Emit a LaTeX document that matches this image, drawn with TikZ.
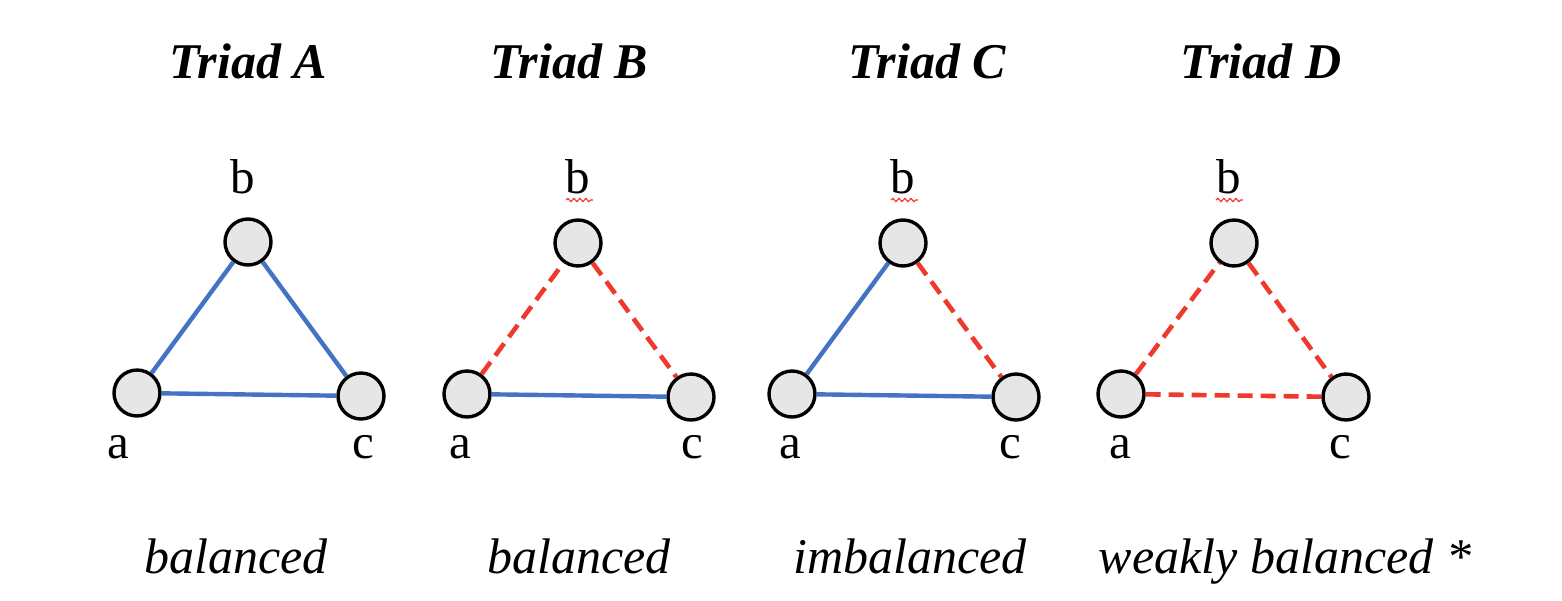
\documentclass[tikz,border=0pt]{standalone}
\usepackage{fontspec}
\setmainfont{Liberation Serif}
\usetikzlibrary{decorations.pathmorphing}
\definecolor{posblue}{HTML}{4472C4}
\definecolor{negred}{HTML}{EE3A2C}
\definecolor{nodegray}{HTML}{E6E6E6}
\tikzset{
  vtx/.style={circle,draw=black,fill=nodegray,line width=1.7pt,minimum size=23pt,inner sep=0pt},
  posedge/.style={draw=posblue,line width=2.2pt},
  negedge/.style={draw=negred,line width=2.3pt,dash pattern=on 7.5pt off 4pt},
  lbl/.style={anchor=base,font=\fontsize{24.5}{28}\selectfont,inner sep=0pt},
  ttl/.style={anchor=base,font=\fontsize{25}{30}\selectfont\bfseries\itshape,inner sep=0pt},
  verdict/.style={anchor=base,font=\fontsize{25}{30}\selectfont\itshape,inner sep=0pt},
  squig/.style={draw=negred,line width=0.6pt,decorate,decoration={snake,amplitude=0.8pt,segment length=3pt}}
}
\begin{document}
\begin{tikzpicture}[x=0.5pt,y=-0.5pt]
\useasboundingbox (0,0) rectangle (1562,600);
% Titles
\node[ttl] (tA) at (248,78) {Triad A};
\node[ttl] (tB) at (569,78) {Triad B};
\node[ttl] (tC) at (927,78) {Triad C};
\node[ttl] (tD) at (1261,78) {Triad D};
% Triad A
\node[vtx] (Ab) at (248,242) {};
\node[vtx] (Aa) at (137,393) {};
\node[vtx] (Ac) at (361,396) {};
\draw[posedge] (Aa) -- (Ab);
\draw[posedge] (Ab) -- (Ac);
\draw[posedge] (Aa) -- (Ac);
\node[lbl] (Lb1) at (243,193) {b};
\node[lbl] (La1) at (118,458) {a};
\node[lbl] (Lc1) at (363,458) {c};
% Triad B
\node[vtx] (Bb) at (578,243) {};
\node[vtx] (Ba) at (467,394) {};
\node[vtx] (Bc) at (691,397) {};
\draw[negedge] (Ba) -- (Bb);
\draw[negedge] (Bb) -- (Bc);
\draw[posedge] (Ba) -- (Bc);
\node[lbl] (Lb2) at (578,193) {b};
\node[lbl] (La2) at (460,458) {a};
\node[lbl] (Lc2) at (692,458) {c};
\coordinate (s2l) at (566,200);
\coordinate (s2r) at (593,200);
\draw[squig] (s2l) -- (s2r);
% Triad C
\node[vtx] (Cb) at (903,243) {};
\node[vtx] (Ca) at (792,394) {};
\node[vtx] (Cc) at (1016,397) {};
\draw[posedge] (Ca) -- (Cb);
\draw[negedge] (Cb) -- (Cc);
\draw[posedge] (Ca) -- (Cc);
\node[lbl] (Lb3) at (903,193) {b};
\node[lbl] (La3) at (790,458) {a};
\node[lbl] (Lc3) at (1010,458) {c};
\coordinate (s3l) at (891,200);
\coordinate (s3r) at (918,200);
\draw[squig] (s3l) -- (s3r);
% Triad D
\node[vtx] (Db) at (1234,243) {};
\node[vtx] (Da) at (1121,394) {};
\node[vtx] (Dc) at (1346,397) {};
\draw[negedge] (Da) -- (Db);
\draw[negedge] (Db) -- (Dc);
\draw[negedge] (Da) -- (Dc);
\node[lbl] (Lb4) at (1229,193) {b};
\node[lbl] (La4) at (1120,458) {a};
\node[lbl] (Lc4) at (1340,458) {c};
\coordinate (s4l) at (1216,200);
\coordinate (s4r) at (1243,200);
\draw[squig] (s4l) -- (s4r);
% Verdicts
\node[verdict] (vA) at (236,573) {balanced};
\node[verdict] (vB) at (579,573) {balanced};
\node[verdict] (vC) at (910,573) {imbalanced};
\node[verdict] (vD) at (1285,573) {weakly balanced *};
\end{tikzpicture}
\end{document}
